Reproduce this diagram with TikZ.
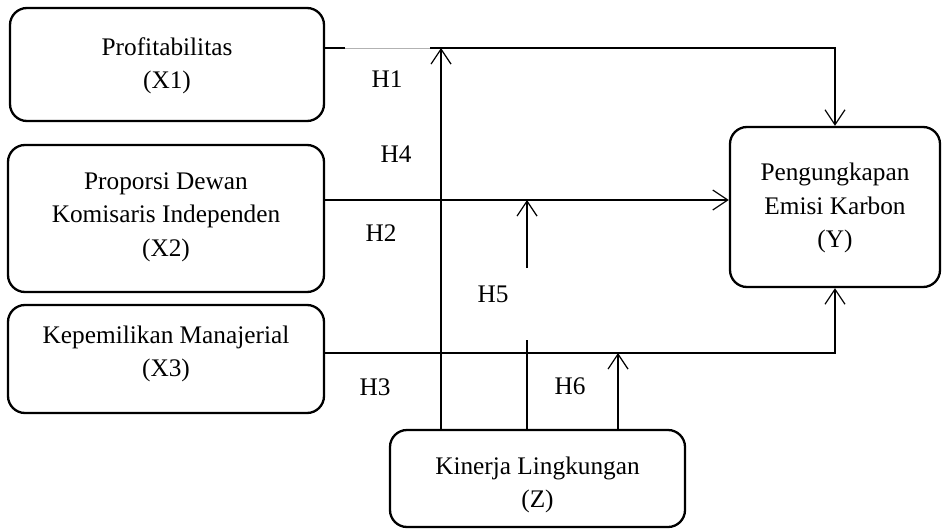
\documentclass[tikz,border=0pt]{standalone}
\usepackage{fontspec}
\setmainfont{Liberation Serif}
\usetikzlibrary{arrows.meta}
\begin{document}
\begin{tikzpicture}[x=1pt,y=-1pt,
  box/.style={draw,line width=2.3pt,rounded corners=17pt,inner sep=0pt},
  txt/.style={align=center,font=\fontsize{25.3}{33.5}\selectfont},
  lbl/.style={font=\fontsize{25.3}{28}\selectfont},
  conn/.style={line width=1.2pt},
  arr/.style={conn,-{Straight Barb[length=15pt,width=20pt,line width=1.2pt]}}]
\useasboundingbox (0,0) rectangle (942,530);
% boxes
\node[box,minimum width=314pt,minimum height=113pt] (x1) at (167,64.5) {};
\node[txt] (x1t) at (167,66) {Profitabilitas\\(X1)};
\node[box,minimum width=316pt,minimum height=147pt] (x2) at (166,218.5) {};
\node[txt] (x2t) at (166,217) {Proporsi Dewan\\Komisaris Independen\\(X2)};
\node[box,minimum width=316pt,minimum height=108pt] (x3) at (166,359) {};
\node[txt] (x3t) at (166,354) {Kepemilikan Manajerial\\(X3)};
\node[box,minimum width=210pt,minimum height=160pt] (y) at (835,207) {};
\node[txt] (yt) at (835,208) {Pengungkapan\\Emisi Karbon\\(Y)};
\node[box,minimum width=295pt,minimum height=97pt] (z) at (537.5,478.5) {};
\node[txt] (zt) at (537.5,485) {Kinerja Lingkungan\\(Z)};
% coordinates
\coordinate (a1) at (x1.east |- 0,48);
\coordinate (g1) at (345,48);
\coordinate (g2) at (430,48);
\coordinate (j4) at (441,48);
\coordinate (a2) at (x2.east |- 0,200);
\coordinate (b2) at (y.west |- 0,200);
\coordinate (a3) at (x3.east |- 0,353);
\coordinate (z4) at (z.north -| 441,0);
\coordinate (z5) at (z.north -| 527,0);
\coordinate (m5a) at (527,340);
\coordinate (m5b) at (527,268);
\coordinate (j5) at (527,200);
\coordinate (z6) at (z.north -| 618,0);
\coordinate (j6) at (618,353);
% connectors
\draw[conn] (a1) -- (g1);
\draw[line width=0.8pt,gray!60] (g1) -- (g2);
\draw[arr] (g2) -| (y.north);
\draw[arr] (z4) -- (j4);
\draw[arr] (a2) -- (b2);
\draw[conn] (z5) -- (m5a);
\draw[arr] (m5b) -- (j5);
\draw[arr] (a3) -| (y.south);
\draw[arr] (z6) -- (j6);
% labels
\node[lbl] (h1) at (387,79) {H1};
\node[lbl] (h4) at (396,154) {H4};
\node[lbl] (h2) at (381,233) {H2};
\node[lbl] (h5) at (493,294) {H5};
\node[lbl] (h3) at (375,387) {H3};
\node[lbl] (h6) at (570,386) {H6};
\end{tikzpicture}
\end{document}
